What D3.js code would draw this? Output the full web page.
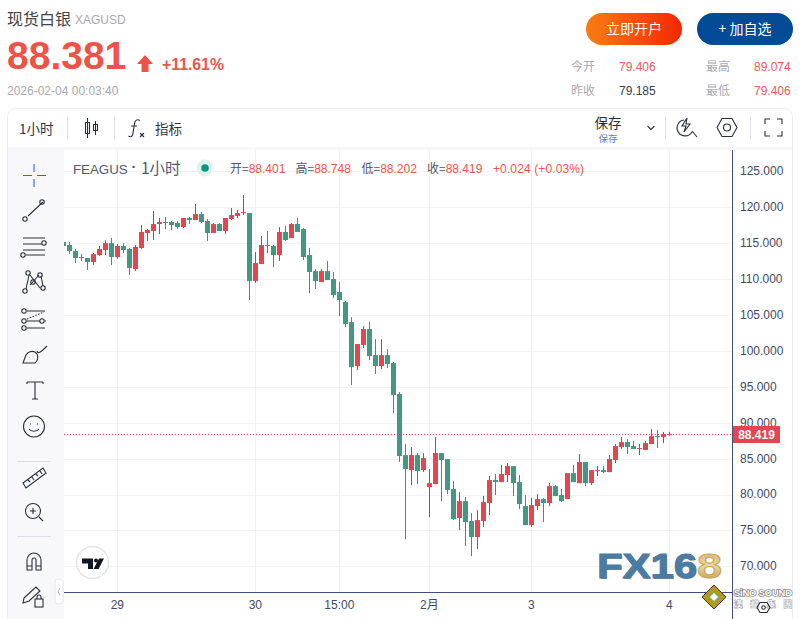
<!DOCTYPE html>
<html>
<head>
<meta charset="utf-8">
<script src="https://cdn.jsdelivr.net/npm/d3@7"></script>
<style>
  html, body { margin: 0; padding: 0; background: #fff; overflow: hidden; }
  svg { display: block; }
  text { font-family: "Liberation Sans", "Noto Sans CJK SC", sans-serif; }
  .cjk { font-family: "Noto Sans CJK SC", "Liberation Sans", sans-serif; }
  .icon { fill: none; stroke: #2a2e39; stroke-width: 1.1; }
</style>
</head>
<body>
<svg id="chart" width="801" height="619"></svg>
<script>
// hourly candles, oldest first
var opens = [115.16,114.75,113.91,113.07,112.94,112.38,113.35,114.05,115.02,113.07,114.61,114.19,111.40,114.33,116.42,116.70,117.67,117.95,117.95,117.81,
  117.25,118.51,118.23,119.06,118.09,116.42,117.67,116.70,118.37,118.79,119.20,119.20,109.73,112.10,114.75,114.61,113.35,116.56,115.72,117.67,
  116.97,113.35,111.12,109.59,111.12,110.01,108.20,106.81,104.02,97.89,100.82,103.05,99.42,97.89,99.42,98.32,94.00,85.50,83.41,85.50,
  83.41,81.04,81.46,85.78,84.94,80.77,76.73,79.09,76.31,74.08,76.31,78.82,82.02,81.74,82.72,83.97,81.74,78.40,75.75,78.40,
  79.37,78.82,81.18,79.93,79.37,82.99,81.60,84.53,81.60,83.27,83.41,83.13,84.81,86.62,87.31,86.76,86.34,86.20,87.03,88.15,88.01,88.401];
var highs = [115.30,115.16,114.19,113.49,112.94,113.63,114.61,115.44,115.72,114.89,115.02,114.33,114.75,117.53,116.97,119.48,118.51,118.65,118.09,118.09,
  118.51,118.65,120.46,119.34,118.37,117.81,117.81,118.51,119.90,119.62,121.71,119.20,113.77,116.00,116.70,114.75,117.25,117.39,117.81,118.51,
  117.11,114.33,111.40,111.40,112.52,110.99,109.59,106.95,104.72,100.96,103.46,104.02,101.65,101.65,100.26,98.46,94.28,87.03,86.62,85.78,
  85.78,83.55,88.01,85.78,84.94,81.88,80.35,79.65,77.42,77.84,79.79,82.58,82.86,84.11,84.39,83.97,82.72,79.93,79.51,80.07,
  79.51,81.60,81.32,80.77,82.99,84.11,85.64,84.53,83.41,83.97,83.97,85.50,87.03,88.01,87.73,87.45,87.03,87.45,89.12,88.98,88.71,88.748];
var lows = [114.60,113.49,112.24,112.52,111.26,111.96,113.21,113.35,111.96,112.80,113.63,110.57,111.12,114.19,115.30,115.44,116.28,116.97,116.84,116.97,
  117.11,117.67,118.23,117.81,115.30,116.42,116.70,116.28,118.23,118.51,118.92,107.09,109.45,112.10,113.63,111.68,112.52,115.30,115.72,116.56,
  112.66,108.06,108.62,109.59,109.87,107.36,104.86,103.32,95.25,97.33,100.40,98.73,96.78,97.47,97.61,91.35,84.53,73.80,81.32,81.46,
  83.13,76.87,81.46,79.09,80.07,76.45,75.05,72.83,71.43,72.41,75.47,77.14,79.93,81.74,81.74,79.79,77.98,75.75,75.47,77.84,
  76.17,78.40,79.79,78.95,79.37,81.74,81.60,81.18,81.32,82.58,82.99,83.13,84.39,86.34,85.64,86.34,85.50,86.20,87.03,86.48,87.17,88.202];
var closes = [114.61,113.91,112.94,112.98,112.38,113.49,114.19,115.02,113.07,114.61,114.05,111.54,114.47,116.56,116.84,117.67,117.95,117.81,117.53,117.25,
  118.51,118.23,119.06,117.95,116.42,117.67,116.70,118.51,118.92,119.20,119.34,109.73,112.24,114.75,114.61,113.35,116.56,115.44,117.67,116.56,
  113.07,110.99,109.73,111.12,109.87,107.78,107.09,103.74,97.75,100.96,103.05,99.28,97.89,99.42,98.17,93.86,85.36,83.55,85.50,83.27,
  85.08,81.60,85.78,84.81,80.63,76.59,79.09,76.17,74.08,76.45,78.95,82.02,81.74,82.86,83.97,81.60,78.68,75.75,78.54,79.37,
  78.82,81.18,79.79,79.09,82.99,81.74,84.53,81.60,83.41,83.41,83.13,84.95,86.76,87.31,86.62,86.34,86.48,87.17,88.15,88.01,88.43,88.419];

var priceTicks = [125,120,115,110,105,100,95,90,85,80,75,70];
var timeTickIndex = [9,32,46,61,78,101];
var timeTickLabels = ["29","30","15:00","2月","3","4"];
var lastPrice = 88.419;

var legendParts = [
  {label: "开=", value: "88.401"},
  {label: "高=", value: "88.748"},
  {label: "低=", value: "88.202"},
  {label: "收=", value: "88.419"}
];

var upColor = "#e2474e", downColor = "#439882";
var upWick = "#a64a57", downWick = "#4f8a6e";
var axisColor = "#434f77", labelColor = "#3f4a66";

var svg = d3.select("#chart");

// scales
var x = d3.scaleLinear().domain([0, 101]).range([63.3, 669.3]);
var y = d3.scaleLinear().domain([125, 70]).range([171.4, 566.4]);

var plotLeft = 64, plotRight = 732.5, plotTop = 150, plotBottom = 592;

svg.append("defs").append("clipPath").attr("id", "plot")
  .append("rect")
  .attr("x", plotLeft).attr("y", plotTop)
  .attr("width", plotRight - plotLeft).attr("height", plotBottom - plotTop);

var grad = svg.select("defs").append("linearGradient").attr("id", "btn");
grad.append("stop").attr("offset", "0%").attr("stop-color", "#f97d14");
grad.append("stop").attr("offset", "100%").attr("stop-color", "#f52700");

var goldGrad = svg.select("defs").append("linearGradient").attr("id", "gold")
  .attr("x1", 0).attr("y1", 0).attr("x2", 0).attr("y2", 1);
goldGrad.append("stop").attr("offset", "0%").attr("stop-color", "#cfa350");
goldGrad.append("stop").attr("offset", "50%").attr("stop-color", "#ead9a8");
goldGrad.append("stop").attr("offset", "100%").attr("stop-color", "#b68c3c");

// page header
svg.append("text").attr("class", "cjk").attr("x", 7).attr("y", 25)
  .attr("font-size", 16).attr("fill", "#444").text("现货白银");
svg.append("text").attr("x", 75).attr("y", 24)
  .attr("font-size", 12).attr("fill", "#a8a8b0").text("XAGUSD");
svg.append("text").attr("x", 7).attr("y", 68.500)
  .attr("font-size", 39).attr("font-weight", "bold").attr("fill", "#ef5348").text("88.381");
svg.append("path").attr("fill", "#ef5348")
  .attr("d", "M145 55 L153 64 L148.500 64 L148.500 72 L141.500 72 L141.500 64 L137 64 Z");
svg.append("text").attr("x", 162).attr("y", 70)
  .attr("font-size", 15.800).attr("font-weight", "bold").attr("fill", "#ef5348").text("+11.61%");
svg.append("text").attr("x", 7).attr("y", 95)
  .attr("font-size", 12).attr("fill", "#a8a8b0").text("2026-02-04 00:03:40");

// buttons
svg.append("rect").attr("x", 586).attr("y", 13).attr("width", 96).attr("height", 32)
  .attr("rx", 16).attr("fill", "url(#btn)");
svg.append("text").attr("class", "cjk").attr("x", 634).attr("y", 34).attr("text-anchor", "middle")
  .attr("font-size", 14).attr("fill", "#fff").text("立即开户");
svg.append("rect").attr("x", 697).attr("y", 13).attr("width", 96).attr("height", 32)
  .attr("rx", 16).attr("fill", "#034b95");
svg.append("text").attr("class", "cjk").attr("x", 745).attr("y", 34).attr("text-anchor", "middle")
  .attr("font-size", 14).attr("fill", "#fff").text("+ 加自选");

// quote stats
var statLabels = ["今开", "最高", "昨收", "最低"];
var statValues = ["79.406", "89.074", "79.185", "79.406"];
var statColors = ["#ef5a5a", "#ef5a5a", "#3a4050", "#ef5a5a"];
statLabels.forEach(function (label, i) {
  var col = i % 2 * 135, row = Math.floor(i / 2) * 24;
  svg.append("text").attr("class", "cjk").attr("x", 571 + col).attr("y", 71 + row)
    .attr("font-size", 12).attr("fill", "#a9a9b4").text(label);
  svg.append("text").attr("x", 619 + col).attr("y", 71 + row)
    .attr("font-size", 12).attr("fill", statColors[i]).text(statValues[i]);
});

// widget frame and panels
svg.append("rect").attr("x", 7.500).attr("y", 108.500).attr("width", 785).attr("height", 520)
  .attr("rx", 8).attr("fill", "#fff").attr("stroke", "#ececf0");
svg.append("rect").attr("x", 8).attr("y", 147).attr("width", 784).attr("height", 3).attr("fill", "#f7f7fa");
svg.append("rect").attr("x", 8).attr("y", 150).attr("width", 56).attr("height", 469).attr("fill", "#f8f8fb");

// top toolbar
svg.append("text").attr("class", "cjk").attr("x", 19).attr("y", 134)
  .attr("font-size", 13.500).attr("fill", "#2f3547").text("1小时");
[67.500, 114.500, 665.500, 750.500].forEach(function (sx) {
  svg.append("line").attr("x1", sx).attr("x2", sx).attr("y1", 117).attr("y2", 139).attr("stroke", "#e0e0e6");
});
svg.append("path").attr("class", "icon")
  .attr("d", "M87.500 118v20 M85.500 122.500h4v11h-4z M95.500 121v14 M93.500 124.500h4v6h-4z");
svg.append("path").attr("class", "icon").attr("d", "M140 120.500c-3-2-5 0-5.500 3l-1.500 10c-.5 3-2.500 4-4.500 2.500 M131 126h6");
svg.append("path").attr("class", "icon").attr("d", "M140 133l4 4 M144 133l-4 4");
svg.append("text").attr("class", "cjk").attr("x", 155).attr("y", 134)
  .attr("font-size", 13.500).attr("fill", "#2f3547").text("指标");
svg.append("text").attr("class", "cjk").attr("x", 608).attr("y", 128).attr("text-anchor", "middle")
  .attr("font-size", 13.500).attr("fill", "#2a2e39").text("保存");
svg.append("text").attr("class", "cjk").attr("x", 608).attr("y", 141.500).attr("text-anchor", "middle")
  .attr("font-size", 9.500).attr("fill", "#5b78f0").text("保存");
svg.append("path").attr("class", "icon").attr("d", "M647.500 126l3.500 3.500l3.500-3.500");
svg.append("path").attr("class", "icon")
  .attr("d", "M684 120a8 8 0 1 0 8 12 M687 118l-5 8h4l-2 6l6-8h-4z M692 131l5 6");
svg.append("path").attr("class", "icon").attr("d", "M717 127.500l5-9h10l5 9l-5 9h-10z");
svg.append("circle").attr("class", "icon").attr("cx", 727).attr("cy", 127.500).attr("r", 3.500);
svg.append("path").attr("class", "icon")
  .attr("d", "M765 124v-5h5 M777 119h5v5 M782 131v5h-5 M770 136h-5v-5");

// grid
var gridG = svg.append("g");
gridG.selectAll("line.h").data(priceTicks).join("line").attr("class", "h")
  .attr("x1", plotLeft).attr("x2", plotRight)
  .attr("y1", d => Math.round(y(d)) + 0.5).attr("y2", d => Math.round(y(d)) + 0.5)
  .attr("stroke", "#f2f2f4");
gridG.selectAll("line.v").data(timeTickIndex).join("line").attr("class", "v")
  .attr("y1", plotTop).attr("y2", plotBottom)
  .attr("x1", d => Math.round(x(d)) + 0.5).attr("x2", d => Math.round(x(d)) + 0.5)
  .attr("stroke", "#f0f0f3");

// candles
var candles = svg.append("g").attr("clip-path", "url(#plot)");
var bars = candles.selectAll("g").data(d3.range(opens.length)).join("g");
bars.append("line")
  .attr("x1", i => Math.round(x(i)) + 0.5).attr("x2", i => Math.round(x(i)) + 0.5)
  .attr("y1", i => y(highs[i])).attr("y2", i => y(lows[i]))
  .attr("stroke", i => closes[i] >= opens[i] ? upWick : downWick)
  .attr("stroke-width", 1);
bars.append("rect")
  .attr("x", i => Math.round(x(i)) - 2)
  .attr("width", 5)
  .attr("y", i => y(Math.max(opens[i], closes[i])))
  .attr("height", i => Math.max(1, y(Math.min(opens[i], closes[i])) - y(Math.max(opens[i], closes[i]))))
  .attr("fill", i => closes[i] >= opens[i] ? upColor : downColor);

// last price line
svg.append("line")
  .attr("x1", plotLeft).attr("x2", plotRight)
  .attr("y1", Math.round(y(lastPrice)) + 0.5).attr("y2", Math.round(y(lastPrice)) + 0.5)
  .attr("stroke", "#e5484f").attr("stroke-dasharray", "1 2");

// price axis
var yAxis = d3.axisRight(y).tickValues(priceTicks).tickFormat(d3.format(".3f")).tickSize(0).tickPadding(7);
var yG = svg.append("g").attr("transform", "translate(733,-0.500)").call(yAxis);
yG.select(".domain").remove();
yG.selectAll("text").attr("font-size", 12).attr("fill", labelColor)
  .style("font-family", "'Liberation Sans', sans-serif");

// time axis
var xAxis = d3.axisBottom(x).tickValues(timeTickIndex)
  .tickFormat(d => timeTickLabels[timeTickIndex.indexOf(d)]).tickSize(0).tickPadding(8);
var xG = svg.append("g").attr("transform", "translate(-0.500,592)").call(xAxis);
xG.select(".domain").remove();
xG.selectAll("text").attr("font-size", 12).attr("fill", labelColor)
  .style("font-family", "'Liberation Sans', 'Noto Sans CJK SC', sans-serif");

svg.append("line").attr("x1", 64).attr("x2", 733).attr("y1", 592.500).attr("y2", 592.500).attr("stroke", axisColor);
svg.append("line").attr("x1", 732.500).attr("x2", 732.500).attr("y1", 150).attr("y2", 619).attr("stroke", axisColor);

// last price tag
svg.append("rect").attr("x", 733).attr("y", 426).attr("width", 47).attr("height", 17).attr("fill", upColor);
svg.append("text").attr("x", 756.500).attr("y", 439).attr("text-anchor", "middle")
  .attr("font-size", 12).attr("font-weight", "bold").attr("fill", "#fff").text(d3.format(".3f")(lastPrice));

// legend line
svg.append("text").attr("x", 73).attr("y", 174)
  .attr("font-size", 13.300).attr("fill", "#505a73").text("FEAGUS");
svg.append("text").attr("x", 131.500).attr("y", 172)
  .attr("font-size", 14.500).attr("font-weight", "bold").attr("fill", "#505a73").text("·");
svg.append("text").attr("class", "cjk").attr("x", 141).attr("y", 174)
  .attr("font-size", 15.500).attr("fill", "#505a73").text("1小时");
svg.append("circle").attr("cx", 205).attr("cy", 168).attr("r", 8.500).attr("fill", "#dff2ee");
svg.append("circle").attr("cx", 205).attr("cy", 168).attr("r", 3.800).attr("fill", "#089981");

var legendStarts = [230, 295.500, 361.500, 427];
legendParts.forEach(function (part, i) {
  var t = svg.append("text").attr("class", "cjk").attr("x", legendStarts[i]).attr("y", 173).attr("font-size", 12);
  t.append("tspan").attr("fill", "#4f566b").text(part.label);
  t.append("tspan").attr("fill", "#ef5350").style("font-family", "'Liberation Sans'").text(part.value);
});
svg.append("text").attr("x", 493).attr("y", 173).attr("font-size", 12).attr("fill", "#ef5350")
  .attr("textLength", 91).text("+0.024 (+0.03%)");

// left tool strip, icons only
var tools = svg.append("g").attr("class", "icon");
tools.append("path").attr("stroke", "#2962ff").attr("d", "M34 164v8 M34 179v8 M23 175.500h9 M37 175.500h9");
tools.append("path").attr("d", "M28 216l15-14");
tools.selectAll("circle.t").data([[25,219],[42,202],[44,243],[23,255],[28,273],[40,275],[33,282],[25,291],[43,288],[24,311],[24,321],[24,328],[42,321]])
  .join("circle").attr("class", "t").attr("cx", d => d[0]).attr("cy", d => d[1]).attr("r", 2.200);
tools.append("path").attr("d", "M23 238h22 M23 244h19 M23 250h22 M26 255h19");
tools.append("path").attr("d", "M26 289l3-14 M30 275l10 13 M39 275l-9 10 M41 276l2 10");
tools.append("path").attr("d", "M27 311h18 M27 321h13 M45 321h1 M27 328h18");
tools.append("path").attr("stroke-dasharray", "1.500 1.500").attr("d", "M27 319l17-7");
tools.append("path").attr("d", "M23 363l3-8a7 7 0 0 1 9-3l2 2a7 7 0 0 1-2 9z M37 351c1 3 3 2 10-5");
tools.append("path").attr("d", "M27 382h16 M35 382v17 M32 399h6 M27 382v2 M43 382v2");
tools.append("circle").attr("cx", 34).attr("cy", 426.500).attr("r", 10.500);
tools.append("path").attr("d", "M29 429c2 3 8 3 10 0 M30.500 423.500v1 M37.500 423.500v1");
tools.append("path").attr("d", "M23 483l20-15l3 5l-20 15z M28 480l2 2 M32 477l2 3 M36 474l2 2 M40 471l2 3");
tools.append("circle").attr("cx", 33).attr("cy", 511).attr("r", 7.500);
tools.append("path").attr("d", "M30 511h6 M33 508v6 M39 517l4 4");
tools.append("path").attr("d", "M27 570v-10a7 7 0 0 1 14 0v10h-5v-10a2 2 0 0 0-4 0v10z M27 566h5 M36 566h5");
tools.append("path").attr("d", "M24 598l12-11l4 4l-11 10l-6 2z");
tools.append("rect").attr("x", 35).attr("y", 599).attr("width", 8).attr("height", 8).attr("fill", "#f8f8fb");
tools.append("path").attr("d", "M37 599v-2a2 2 0 0 1 4 0v2");
[461.500, 536.500].forEach(function (sy) {
  svg.append("line").attr("x1", 17).attr("x2", 51).attr("y1", sy).attr("y2", sy).attr("stroke", "#dcdce6");
});
svg.append("rect").attr("x", 55).attr("y", 579).attr("width", 8).attr("height", 25).attr("rx", 3)
  .attr("fill", "#fff").attr("stroke", "#e6e6ec");
svg.append("path").attr("d", "M60 588l-2 3.500l2 3.500").attr("fill", "none").attr("stroke", "#b5b5c0");

// TradingView badge
svg.append("circle").attr("cx", 92.500).attr("cy", 562.500).attr("r", 16).attr("fill", "#fff").attr("stroke", "#e4e4ec").attr("stroke-width", 1.500);
svg.append("path").attr("fill", "#131722")
  .attr("d", "M82 558.500h11v10.500h-5v-5.500h-6z M104 558.500l-5.500 10.500h-5l5.500-10.500z");
svg.append("circle").attr("cx", 96).attr("cy", 560.600).attr("r", 2).attr("fill", "#131722");

// watermark
svg.append("text").attr("x", 598).attr("y", 579).attr("font-size", 35).attr("font-weight", "bold")
  .attr("textLength", 100).attr("lengthAdjust", "spacingAndGlyphs")
  .attr("fill", "#8a8a8a").text("FX16");
svg.append("text").attr("x", 597).attr("y", 578).attr("font-size", 35).attr("font-weight", "bold")
  .attr("textLength", 100).attr("lengthAdjust", "spacingAndGlyphs")
  .attr("fill", "#4a7ca3").attr("stroke", "#4a7ca3").text("FX16");
svg.append("text").attr("x", 697).attr("y", 578).attr("font-size", 35).attr("font-weight", "bold")
  .attr("textLength", 25).attr("lengthAdjust", "spacingAndGlyphs")
  .attr("fill", "url(#gold)").attr("stroke", "#c9a85c").text("8");
svg.append("path").attr("d", "M714 585l12 12l-12 12l-12-12z").attr("fill", "#b8961f").attr("stroke", "#3a3a30");
svg.append("path").attr("d", "M714 591.500l5.500 5.500l-5.500 5.500l-5.500-5.500z").attr("fill", "#fff").attr("stroke", "#8ca83c").attr("stroke-width", 2);
svg.append("text").attr("x", 734).attr("y", 596).attr("font-size", 9.500).attr("font-weight", "bold")
  .attr("fill", "#fff").attr("stroke", "#888").attr("stroke-width", 1.500).attr("paint-order", "stroke")
  .attr("textLength", 58).text("SiNO SOUND");
svg.append("text").attr("class", "cjk").attr("x", 734).attr("y", 607).attr("font-size", 8.500)
  .attr("fill", "#fff").attr("stroke", "#aaa").attr("stroke-width", 1.200).attr("paint-order", "stroke")
  .attr("textLength", 58).text("漢 聲 集 團");
svg.append("path").attr("class", "icon").attr("d", "M757 607.500l3-5h7l3 5l-3 5h-7z");
svg.append("circle").attr("class", "icon").attr("cx", 763.500).attr("cy", 607.500).attr("r", 1.800);
</script>
</body>
</html>
